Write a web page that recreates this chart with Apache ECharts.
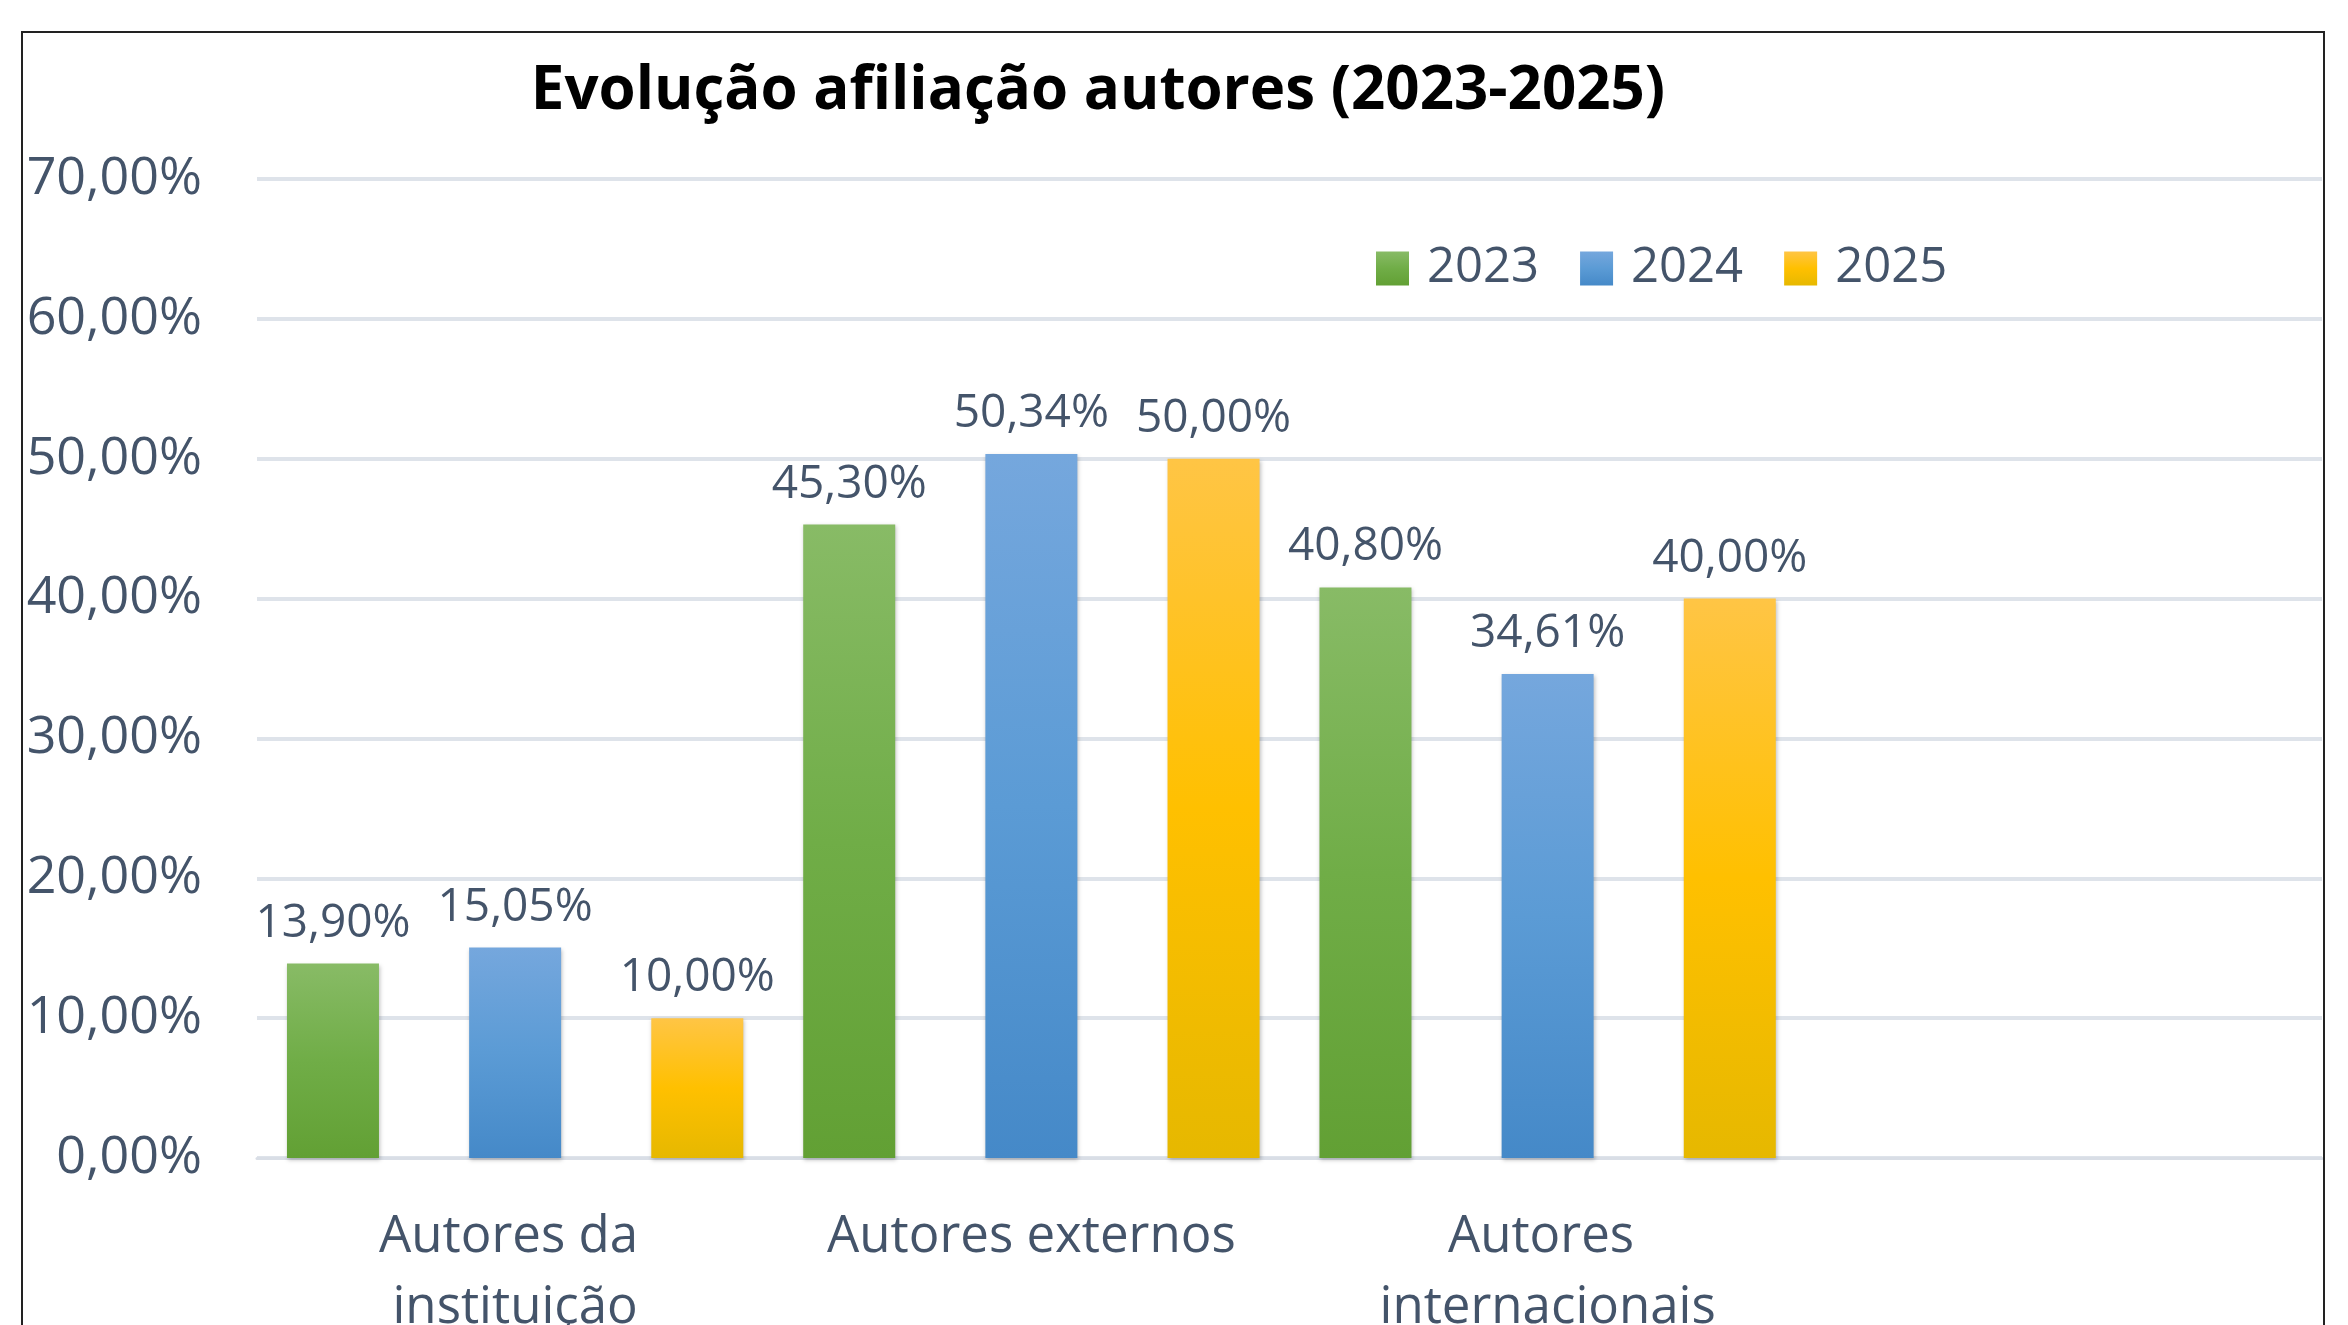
<!DOCTYPE html>
<html>
<head>
<meta charset="utf-8">
<script src="https://cdn.jsdelivr.net/npm/echarts@6/dist/echarts.min.js"></script>
<style>
  html, body { margin: 0; padding: 0; background: #fff; }
  #chart { width: 2348px; height: 1325px; }
</style>
</head>
<body>
<div id="chart"></div>
<script>
// categories (last one is an empty slot, as in the original chart)
const categories = ['Autores da instituição', 'Autores externos', 'Autores internacionais', ''];
const years = ['2023', '2024', '2025'];
const values2023 = [13.90, 45.30, 40.80, '-'];
const values2024 = [15.05, 50.34, 34.61, '-'];
const values2025 = [10.00, 50.00, 40.00, '-'];

const textColor = '#44546A';
const font = '"Open Sans", sans-serif';

function pct(v) {
    return Number(v).toFixed(2).replace('.', ',') + '%';
}

function grad(top, mid, bottom) {
    return new echarts.graphic.LinearGradient(0, 0, 0, 1, [
        { offset: 0, color: top },
        { offset: 0.5, color: mid },
        { offset: 1, color: bottom }
    ]);
}

const colors = [
    grad('#88BB66', '#70AD47', '#62A034'),
    grad('#75A7DD', '#5B9BD5', '#4589C8'),
    grad('#FFC545', '#FFC000', '#E6B800')
];

let myChart = echarts.init(document.getElementById('chart'));

function makeSeries(name, data, color) {
    return {
        name: name,
        type: 'bar',
        data: data,
        barWidth: 92,
        barGap: '98%',
        itemStyle: {
            color: color,
            shadowBlur: 4,
            shadowColor: 'rgba(0,0,0,0.25)',
            shadowOffsetX: 1,
            shadowOffsetY: 2
        },
        label: {
            show: true,
            position: 'top',
            distance: 17,
            color: textColor,
            fontFamily: font,
            fontSize: 46,
            formatter: p => pct(p.value)
        }
    };
}

myChart.setOption({
    animation: false,
    title: {
        text: 'Evolução afiliação autores (2023-2025)',
        left: 1093,
        top: 87,
        textAlign: 'center',
        textVerticalAlign: 'middle',
        textStyle: {
            color: '#000',
            fontFamily: font,
            fontWeight: 'bold',
            fontSize: 60
        }
    },
    legend: {
        data: years,
        left: 1376,
        top: 244,
        padding: 0,
        icon: 'rect',
        itemWidth: 33,
        itemHeight: 34,
        itemGap: 41,
        textStyle: {
            color: textColor,
            fontFamily: font,
            fontSize: 49,
            padding: [0, 0, 0, 13]
        }
    },
    grid: {
        left: 257,
        right: 26,
        top: 179,
        bottom: 167,
        outerBoundsMode: 'none',
        containLabel: false
    },
    xAxis: {
        type: 'category',
        data: categories,
        axisTick: { show: false },
        axisLine: { lineStyle: { color: '#D9DEE6', width: 3 } },
        axisLabel: {
            color: textColor,
            fontFamily: font,
            fontSize: 51,
            lineHeight: 71,
            margin: 44,
            width: 480,
            overflow: 'break',
            interval: 0
        }
    },
    yAxis: {
        type: 'value',
        min: 0,
        max: 70,
        interval: 10,
        axisLine: { show: false },
        axisTick: { show: false },
        splitLine: { lineStyle: { color: '#DEE3EA', width: 4 } },
        axisLabel: {
            color: textColor,
            fontFamily: font,
            fontSize: 52,
            margin: 55,
            formatter: v => pct(v)
        }
    },
    graphic: [{
        type: 'rect',
        shape: { x: 22, y: 32, width: 2302, height: 1400 },
        style: { fill: 'none', stroke: '#222', lineWidth: 2 },
        z: 100
    }],
    series: [
        makeSeries(years[0], values2023, colors[0]),
        makeSeries(years[1], values2024, colors[1]),
        makeSeries(years[2], values2025, colors[2])
    ]
});
</script>
</body>
</html>
